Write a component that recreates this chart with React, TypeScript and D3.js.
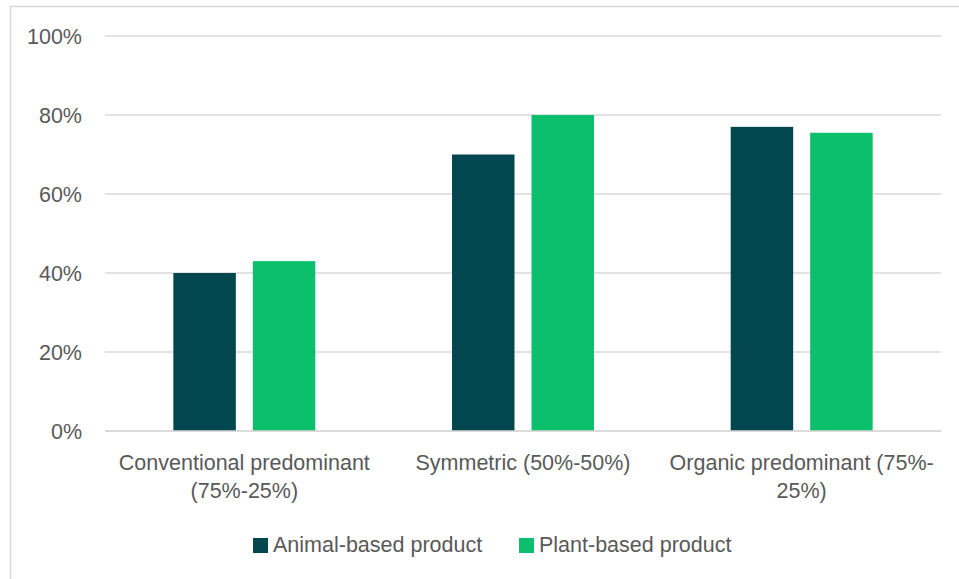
import React from "react";
import * as d3 from "d3";

const categories = [
  ["Conventional predominant", "(75%-25%)"],
  ["Symmetric (50%-50%)"],
  ["Organic predominant (75%-", "25%)"],
];
const seriesNames = ["Animal-based product", "Plant-based product"];
const animalValues = [0.40, 0.70, 0.77];
const plantValues = [0.43, 0.80, 0.755];
const yTicks = [0, 0.2, 0.4, 0.6, 0.8, 1.0];

const colors = ["#02474F", "#0CBF6C"];
const textColor = "#595959";
const gridColor = "#D9D9D9";
const font = "'Liberation Sans', Arial, sans-serif";
const fontSize = 21.5;

export default function App() {
  const width = 959;
  const height = 579;
  const left = 105;
  const right = 941;
  const top = 36;
  const bottom = 431;

  const catKeys = categories.map((c) => c.join(" "));
  const x0 = d3.scaleBand<string>().domain(catKeys).range([left, right]).padding(0);
  const x1 = d3
    .scaleBand<string>()
    .domain(seriesNames)
    .range([0, x0.bandwidth()])
    .paddingInner(0.214)
    .paddingOuter(0.86);
  const y = d3.scaleLinear().domain([0, 1]).range([bottom, top]);
  const fmt = d3.format(".0%");
  const series = [animalValues, plantValues];

  return (
    <svg
      width={width}
      height={height}
      style={{ position: "absolute", left: 0, top: 0, background: "#fff" }}
      fontFamily={font}
    >
      <rect x={10.5} y={6.5} width={width + 10} height={height + 10} fill="#fff" stroke="#D9D9D9" strokeWidth={1.5} />
      {yTicks.map((t) => (
        <g key={t}>
          <line x1={left} x2={right} y1={y(t)} y2={y(t)} stroke={gridColor} strokeWidth={1.5} />
          <text x={82} y={y(t)} dy="0.35em" textAnchor="end" fontSize={fontSize} fill={textColor}>
            {fmt(t)}
          </text>
        </g>
      ))}
      {categories.map((c, i) => {
        const key = catKeys[i];
        const gx = x0(key)!;
        return (
          <g key={key}>
            {series.map((vals, s) => (
              <rect
                key={s}
                x={gx + x1(seriesNames[s])!}
                y={y(vals[i])}
                width={x1.bandwidth()}
                height={y(0) - y(vals[i])}
                fill={colors[s]}
              />
            ))}
            <text textAnchor="middle" fontSize={fontSize} fill={textColor}>
              {c.map((line, li) => (
                <tspan key={li} x={gx + x0.bandwidth() / 2} y={470 + li * 28}>
                  {line}
                </tspan>
              ))}
            </text>
          </g>
        );
      })}
      <line x1={left} x2={right} y1={y(0)} y2={y(0)} stroke={gridColor} strokeWidth={1.5} />
      {seriesNames.map((name, s) => {
        const lx = [253, 519][s];
        return (
          <g key={name}>
            <rect x={lx} y={538} width={15} height={15} fill={colors[s]} />
            <text x={lx + 20} y={552} fontSize={fontSize} fill={textColor}>
              {name}
            </text>
          </g>
        );
      })}
    </svg>
  );
}
